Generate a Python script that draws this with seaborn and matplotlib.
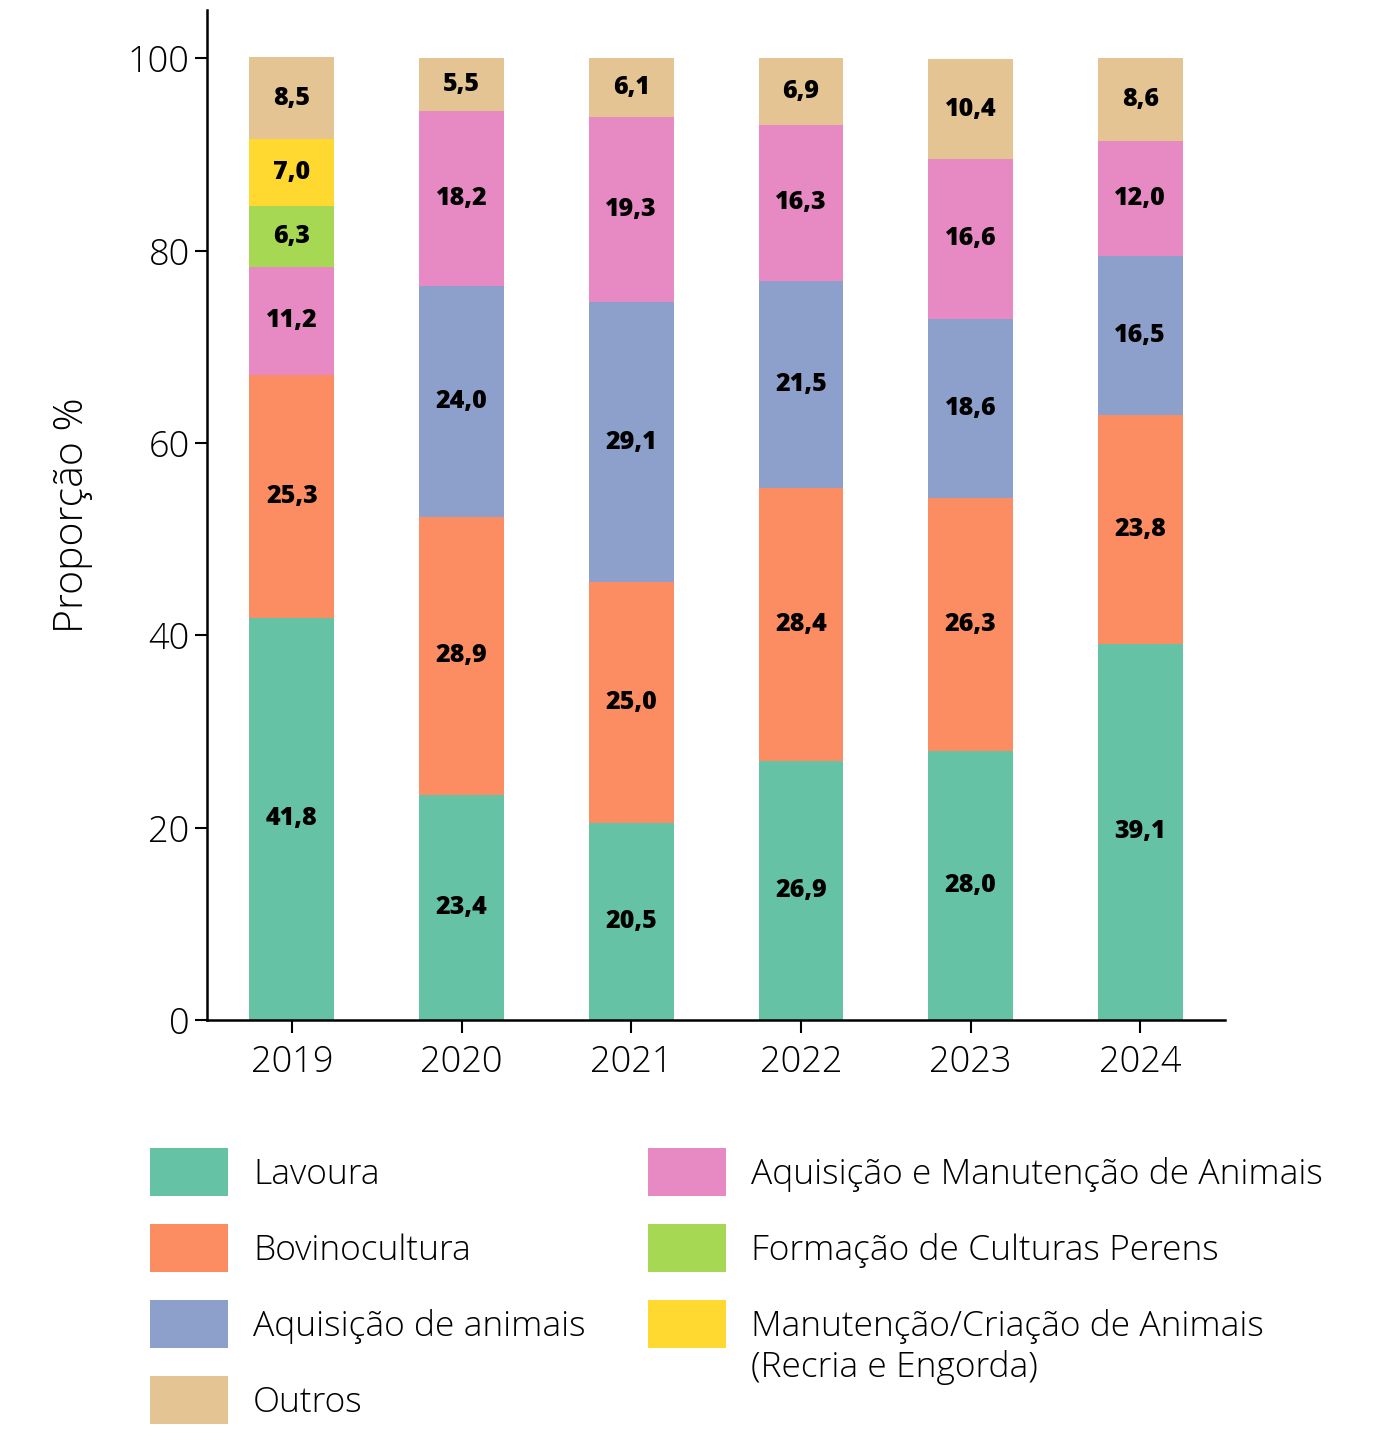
import pandas as pd
import numpy as np
import matplotlib
matplotlib.use("Agg")
import matplotlib.pyplot as plt
from matplotlib.patches import Patch
import seaborn as sns

# ──────────────────────────────────────────────
# DATA
# ──────────────────────────────────────────────

anos = ["2019", "2020", "2021", "2022", "2023", "2024"]

lavoura        = [41.8, 23.4, 20.5, 26.9, 28.0, 39.1]
bovinocultura  = [25.3, 28.9, 25.0, 28.4, 26.3, 23.8]
aquis_animais  = [0.0, 24.0, 29.1, 21.5, 18.6, 16.5]
aquis_manut    = [11.2, 18.2, 19.3, 16.3, 16.6, 12.0]
formacao       = [6.3, 0.0, 0.0, 0.0, 0.0, 0.0]
manut_criacao  = [7.0, 0.0, 0.0, 0.0, 0.0, 0.0]
outros         = [8.5, 5.5, 6.1, 6.9, 10.4, 8.6]

categorias = [
    "Lavoura",
    "Bovinocultura",
    "Aquisição de animais",
    "Aquisição e Manutenção de Animais",
    "Formação de Culturas Perens",
    "Manutenção/Criação de Animais",
    "Outros",
]
nota_extra = "(Recria e Engorda)"   # second line of the 6th legend entry
series = [lavoura, bovinocultura, aquis_animais, aquis_manut,
          formacao, manut_criacao, outros]
cores = sns.color_palette("Set2", 7)

# ──────────────────────────────────────────────
# PLOT
# ──────────────────────────────────────────────

sns.set_style("white")
plt.rcParams["font.family"] = ["Open Sans", "DejaVu Sans"]
for k in ["text.color", "axes.labelcolor", "xtick.color", "ytick.color"]:
    plt.rcParams[k] = "black"

df = pd.DataFrame({"ano": anos})
for cat, vals in zip(categorias, series):
    df[cat] = vals
cum = df[categorias].cumsum(axis=1)

fig = plt.figure(figsize=(13.84, 14.41), dpi=100)
ax = fig.add_axes([0.1496, 0.2922, 0.7356, 0.7008])

# stacked bars: draw cumulative totals from the top category down
for cat, cor in reversed(list(zip(categorias, cores))):
    sns.barplot(x=df["ano"], y=cum[cat], color=cor, width=0.5,
                saturation=1, linewidth=0, edgecolor="none", ax=ax, order=anos)

# value labels in the middle of each segment
for i in range(len(anos)):
    for cat in categorias:
        v = df.loc[i, cat]
        if v > 0:
            ax.text(i, cum.loc[i, cat] - v / 2, f"{v:.1f}".replace(".", ","),
                    ha="center", va="center", fontsize=18, fontweight="heavy")

ax.set_xlim(-0.5, 5.5)
ax.set_ylim(0, 105)
ax.set_yticks([0, 20, 40, 60, 80, 100])
ax.set_xlabel("")
ax.set_ylabel("Proporção %", fontsize=29.5, fontweight="light", labelpad=25)
ax.tick_params(axis="both", labelsize=26, length=9, width=1.5, direction="out",
               bottom=True, left=True)
ax.tick_params(axis="x", pad=8)
for lbl in ax.get_xticklabels() + ax.get_yticklabels():
    lbl.set_fontweight("light")
sns.despine(ax=ax)
for s in ["left", "bottom"]:
    ax.spines[s].set_linewidth(1.8)
    ax.spines[s].set_color("black")

handles = [Patch(facecolor=c, edgecolor="none") for c in cores]
ordem = [0, 1, 2, 6, 3, 4, 5]
leg = fig.legend([handles[k] for k in ordem], [categorias[k] for k in ordem],
                 loc="upper left", bbox_to_anchor=(150 / 1384, 1 - 1148 / 1441),
                 ncol=2, frameon=False, prop={"weight": "light", "size": 25.5},
                 handlelength=2.2, handleheight=1.71, handletextpad=0.71,
                 labelspacing=0.79, columnspacing=1.75, borderpad=0, borderaxespad=0)

# second line of the last legend label, aligned under its first line
fig.canvas.draw()
t = [tx for tx in leg.get_texts() if tx.get_text() == categorias[5]][0]
bb = t.get_window_extent()
x0, y0 = fig.transFigure.inverted().transform((bb.x0, bb.y0 - 41))
fig.text(x0, y0, nota_extra, fontsize=25.5, fontweight="light", va="bottom", ha="left")

fig.savefig("out.png", dpi=100)
